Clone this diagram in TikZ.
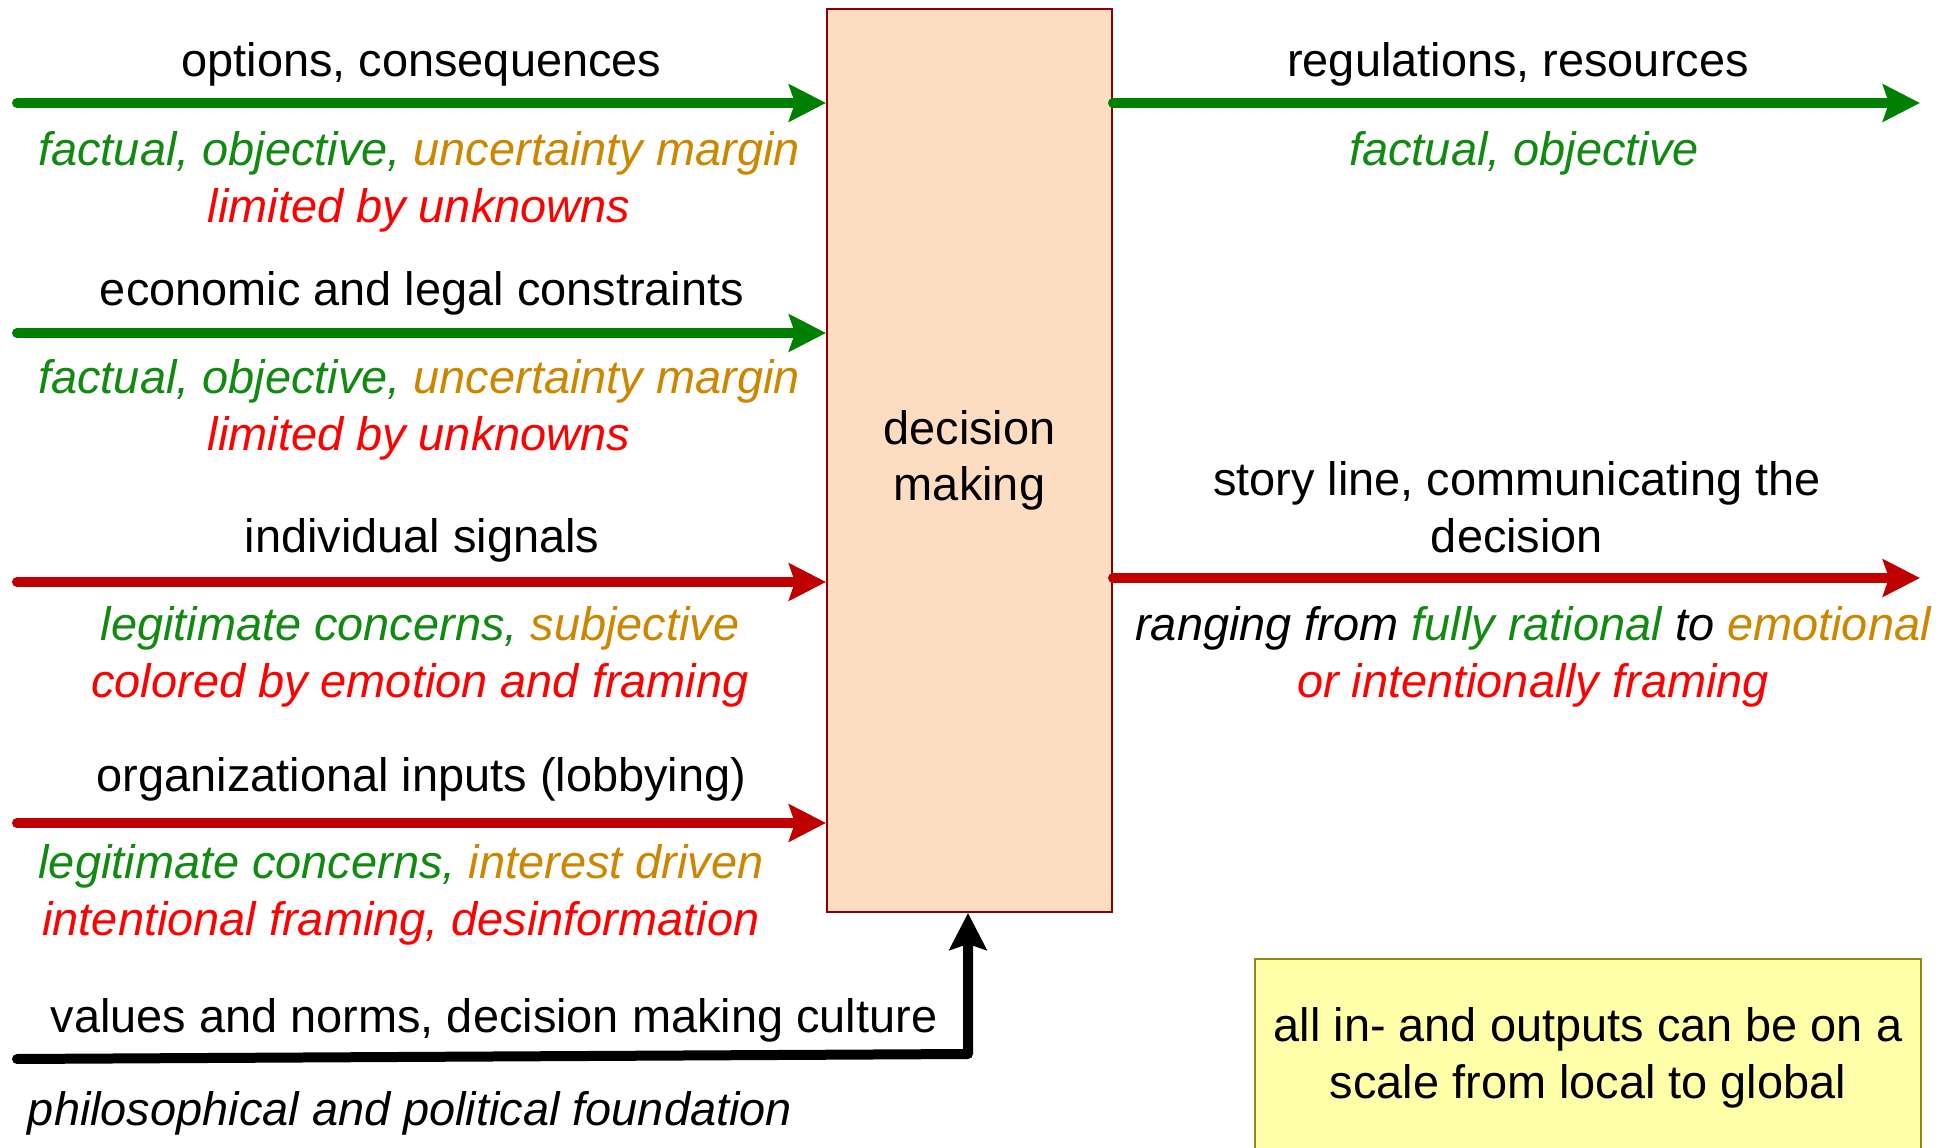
\documentclass[tikz,border=0pt]{standalone}
\usepackage{fontspec}
\setmainfont{Liberation Sans}
\usetikzlibrary{arrows.meta}
\definecolor{argreen}{HTML}{008000}
\definecolor{arred}{HTML}{C00000}
\definecolor{txgreen}{HTML}{108A10}
\definecolor{txorange}{HTML}{CC8600}
\definecolor{txred}{HTML}{FF0000}
\definecolor{boxfill}{HTML}{FDDDC2}
\definecolor{boxdraw}{HTML}{8B0000}
\definecolor{notefill}{HTML}{FFFFAA}
\definecolor{notedraw}{HTML}{8B8B1A}
\tikzstyle{flow}=[line width=0.2cm, line cap=round, line join=round, -{Stealth[length=0.74cm, width=0.74cm, inset=0.12cm]}]
\tikzstyle{annot}=[align=center, inner sep=0pt, font=\fontsize{26.7}{32.2}\selectfont]
\tikzstyle{note}=[annot, font=\fontsize{26.7}{32.2}\selectfont\itshape]
\tikzstyle{block}=[rectangle, draw=boxdraw, fill=boxfill, line width=0.04cm, anchor=center]
\newcommand{\gr}[1]{\textcolor{txgreen}{#1}}
\newcommand{\og}[1]{\textcolor{txorange}{#1}}
\newcommand{\rd}[1]{\textcolor{txred}{#1}}

\begin{document}
\begin{tikzpicture}[x=0.02cm, y=-0.02cm]
	\useasboundingbox (0,0) rectangle (1955,1148);

	\node[block, annot, minimum width=5.7cm, minimum height=18.06cm](dm) at (969.5,460.5){decision\\making};
	\node[block, annot, draw=notedraw, fill=notefill, minimum width=13.32cm, minimum height=3.96cm](scale) at (1588,1058){all in- and outputs can be on a\\scale from local to global};

	\coordinate (in1) at (17,103);
	\coordinate (in2) at (17,333);
	\coordinate (in3) at (17,582);
	\coordinate (in4) at (17,823);
	\coordinate (vn) at (17,1059);
	\coordinate (vc) at (968,1054);
	\coordinate (out1) at (1920,103);
	\coordinate (out2) at (1920,578);

	\draw[flow, color=argreen] (in1) -- (in1 -| dm.west);
	\draw[flow, color=argreen] (in2) -- (in2 -| dm.west);
	\draw[flow, color=arred] (in3) -- (in3 -| dm.west);
	\draw[flow, color=arred] (in4) -- (in4 -| dm.west);
	\draw[flow, color=black] (vn) -- (vc) -- (vc |- dm.south);
	\draw[flow, color=argreen] (out1 -| dm.east) -- (out1);
	\draw[flow, color=arred] (out2 -| dm.east) -- (out2);

	% inputs
	\node[annot](opt) at (421.5,64){options, consequences};
	\node[note](optn) at (419,182){\gr{factual, objective,} \og{uncertainty margin}\\\rd{limited by unknowns}};
	\node[annot](eco) at (422,293){economic and legal constraints};
	\node[note](econ) at (419,410){\gr{factual, objective,} \og{uncertainty margin}\\\rd{limited by unknowns}};
	\node[annot](ind) at (422,540){individual signals};
	\node[note](indn) at (420,657){\gr{legitimate concerns,} \og{subjective}\\\rd{colored by emotion and framing}};
	\node[annot](org) at (421.5,779){organizational inputs (lobbying)};
	\node[note](orgn) at (401,895){\gr{legitimate concerns,} \og{interest driven}\\\rd{intentional framing, desinformation}};
	\node[annot](val) at (494,1020){values and norms, decision making culture};
	\node[note](valn) at (410,1113){philosophical and political foundation};

	% outputs
	\node[annot](reg) at (1518,64){regulations, resources};
	\node[note](regn) at (1524,153){\gr{factual, objective}};
	\node[annot](sto) at (1517,507){story line, communicating the\\decision};
	\node[note](ston) at (1533,657){ranging from \gr{fully rational} to \og{emotional}\\\rd{or intentionally framing}};

\end{tikzpicture}
\end{document}
